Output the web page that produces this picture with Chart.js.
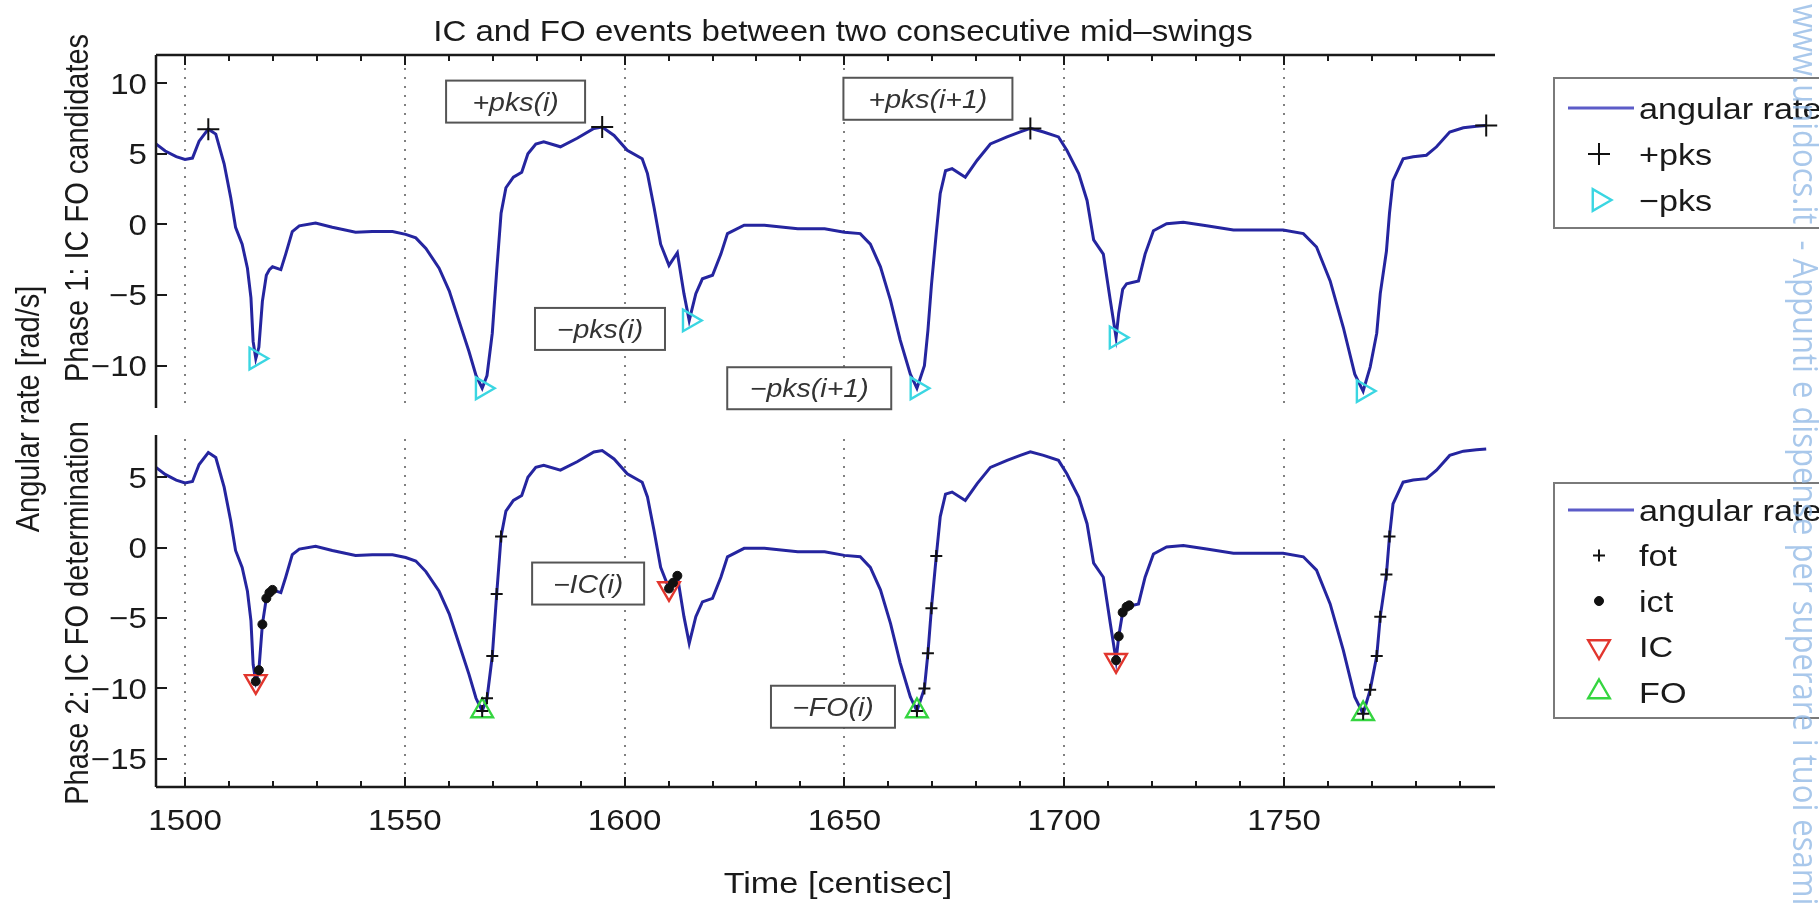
<!DOCTYPE html>
<html>
<head>
<meta charset="utf-8">
<script src="https://cdn.jsdelivr.net/npm/chart.js@4.4.0/dist/chart.umd.min.js"></script>
<style>
  html, body { margin: 0; padding: 0; background: #fff; }
  #wrap { position: relative; width: 1819px; height: 907px; overflow: hidden; background: #fff; }
  canvas { position: absolute; left: 0; top: 0; }
</style>
</head>
<body>
<div id="wrap">
  <canvas id="phase1" width="1819" height="907"></canvas>
  <canvas id="phase2" width="1819" height="907"></canvas>
</div>
<script>
// angular rate signal (time in centisec, rate in rad/s)
var timeCs = [1493.4, 1495.5, 1498, 1500, 1501.7, 1503.2, 1505.3, 1507, 1508.9, 1510.4, 1511.5, 1513, 1514.2, 1515, 1515.5,
  1516.1, 1516.8, 1517.6, 1518.5, 1519.2, 1519.9, 1521.8, 1522.9, 1524.4, 1526, 1529.7, 1533.5, 1538.8, 1542.6, 1547.2,
  1550.2, 1552.5, 1554.8, 1557.8, 1560.1, 1562.4, 1564.6, 1566.2, 1567.6, 1568.7, 1569.9, 1570.9, 1571.9, 1573, 1574.7,
  1576.6, 1578, 1579.8, 1581.6, 1585.4, 1589.2, 1593, 1594.9, 1597.6, 1600.6, 1604, 1605.2, 1606.7, 1608.2, 1610.1,
  1612, 1613.5, 1614.7, 1616.2, 1617.7, 1620, 1621.9, 1623.4, 1627.2, 1631.8, 1639.4, 1645.5, 1650, 1653.6, 1655.9,
  1658.2, 1660.5, 1662.7, 1665, 1666.5, 1668.2, 1669.0, 1669.8, 1670.9, 1671.8, 1673, 1674.5, 1677.5, 1680.2, 1683.2,
  1687, 1690, 1692.3, 1695.3, 1698.7, 1700.6, 1703.3, 1705.2, 1706.7, 1708.9, 1710.5, 1711.8, 1712.4, 1713.3, 1714.2,
  1716.9, 1718.4, 1720.3, 1723.3, 1727.1, 1732.4, 1738.5, 1743.8, 1749.8, 1754.4, 1757.4, 1760.5, 1763.5, 1766.1, 1768.0,
  1769.6, 1771.1, 1771.9, 1773.3, 1774.0, 1774.8, 1777.1, 1779.4, 1782.4, 1784.7, 1787.7, 1790.8, 1793.8, 1796.0];
var angularRate = [5.7, 5.2, 4.8, 4.6, 4.7, 5.9, 6.75, 6.4, 4.3, 1.9, -0.2, -1.4, -3.1, -5.2, -8.3,
  -9.5, -8.7, -5.45, -3.6, -3.2, -3.0, -3.2, -2.1, -0.5, -0.1, 0.1, -0.2, -0.55, -0.5, -0.5,
  -0.7, -0.95, -1.7, -3.1, -4.7, -6.9, -9.0, -10.7, -11.6, -10.7, -7.7, -3.3, 0.8, 2.6, 3.35,
  3.7, 5.0, 5.7, 5.85, 5.5, 6.1, 6.8, 6.9, 6.3, 5.25, 4.65, 3.6, 1.2, -1.4, -2.9,
  -2.0, -4.9, -6.8, -4.9, -3.85, -3.6, -2.1, -0.65, -0.05, -0.05, -0.3, -0.3, -0.55, -0.65, -1.4,
  -3.0, -5.4, -8.2, -10.6, -11.6, -10.0, -7.5, -4.3, -0.6, 2.2, 3.8, 3.95, 3.35, 4.55, 5.7,
  6.2, 6.55, 6.8, 6.55, 6.2, 5.25, 3.6, 1.7, -1.1, -2.1, -5.4, -8.0, -6.3, -4.6, -4.2,
  -4.0, -2.1, -0.45, 0.05, 0.15, -0.1, -0.4, -0.4, -0.4, -0.65, -1.6, -4.0, -7.3, -10.6, -11.8,
  -10.1, -7.7, -4.9, -1.9, 0.8, 3.1, 4.65, 4.8, 4.9, 5.5, 6.55, 6.85, 6.95, 7.0];

// phase 1: peak candidates
var posPeakTime = [1505.3, 1594.9, 1692.3, 1796.0];
var posPeakRate = [6.75, 6.9, 6.8, 7.0];
var negPeakTime = [1516.1, 1567.6, 1614.7, 1666.5, 1711.8, 1768.0];
var negPeakRate = [-9.5, -11.6, -6.8, -11.6, -8.0, -11.8];

// phase 2: candidates and detected events
var fotTime = [1567.6, 1568.7, 1569.9, 1570.9, 1571.9, 1666.5, 1668.2, 1669.0, 1669.8, 1670.9,
  1768.0, 1769.6, 1771.1, 1771.9, 1773.3, 1774.0];
var fotRate = [-11.6, -10.7, -7.7, -3.3, 0.8, -11.6, -10.0, -7.5, -4.3, -0.6,
  -11.8, -10.1, -7.7, -4.9, -1.9, 0.8];
var ictTime = [1516.1, 1516.8, 1517.6, 1518.5, 1519.2, 1519.9, 1610.1, 1611.0, 1612.0,
  1711.8, 1712.4, 1713.3, 1714.2, 1714.8];
var ictRate = [-9.5, -8.7, -5.45, -3.6, -3.2, -3.0, -2.9, -2.5, -2.0,
  -8.0, -6.3, -4.6, -4.2, -4.1];
var icTime = [1516.1, 1610.1, 1711.8];
var icRate = [-9.5, -2.9, -8.0];
var foTime = [1567.6, 1666.5, 1768.0];
var foRate = [-11.6, -11.6, -11.8];

// axis ticks
var xTickLabels = [1500, 1550, 1600, 1650, 1700, 1750];
var topYTicks = [-10, -5, 0, 5, 10];
var bottomYTicks = [-15, -10, -5, 0, 5];

// text call-outs (anchored in data units)
var topNoteText = ['+pks(i)', '+pks(i+1)', '\u2212pks(i)', '\u2212pks(i+1)'];
var topNoteTime = [1575.2, 1669.0, 1594.4, 1642.0];
var topNoteRate = [8.7, 8.9, -7.4, -11.6];
var bottomNoteText = ['\u2212IC(i)', '\u2212FO(i)'];
var bottomNoteTime = [1591.7, 1647.4];
var bottomNoteRate = [-2.55, -11.3];

var W = 1819, H = 907;
var X_MIN = 1493.4, X_MAX = 1798;
var FONT = '"Liberation Sans", Arial, Helvetica, sans-serif';
var SX = 1.14; // the figure's text is a little wider than tall
var BLUE = '#25259f';

function toPoints(xs, ys) {
  return xs.map(function (x, i) { return { x: x, y: ys[i] }; });
}

function drawText(ctx, str, x, y, size, o) {
  o = o || {};
  ctx.save();
  ctx.translate(x, y);
  if (o.angle) { ctx.rotate(o.angle); ctx.scale(1, SX); } else { ctx.scale(SX, 1); }
  ctx.font = (o.italic ? 'italic ' : '') + size + 'px ' + (o.family || FONT);
  ctx.textAlign = o.align || 'center';
  ctx.textBaseline = o.baseline || 'alphabetic';
  ctx.fillStyle = o.color || '#1a1a1a';
  ctx.fillText(str, 0, 0);
  ctx.restore();
}

function drawMarker(ctx, style, x, y, r, rotation, stroke, fill, lw) {
  ctx.save();
  ctx.translate(x, y);
  ctx.rotate((rotation || 0) * Math.PI / 180);
  ctx.lineWidth = lw;
  ctx.strokeStyle = stroke;
  ctx.fillStyle = fill;
  ctx.beginPath();
  if (style === 'cross') {
    ctx.moveTo(-r, 0); ctx.lineTo(r, 0);
    ctx.moveTo(0, -r); ctx.lineTo(0, r);
    ctx.stroke();
  } else if (style === 'circle') {
    ctx.arc(0, 0, r, 0, Math.PI * 2);
    ctx.fill(); ctx.stroke();
  } else {
    for (var k = 0; k < 3; k++) {
      var a = k * 2 * Math.PI / 3;
      if (k === 0) ctx.moveTo(Math.sin(a) * r, -Math.cos(a) * r);
      else ctx.lineTo(Math.sin(a) * r, -Math.cos(a) * r);
    }
    ctx.closePath();
    ctx.fill(); ctx.stroke();
  }
  ctx.restore();
}

function drawLegend(ctx, chart, box) {
  ctx.save();
  ctx.fillStyle = '#fff';
  ctx.strokeStyle = '#7a7a7a';
  ctx.lineWidth = 2;
  ctx.fillRect(box.left, box.top, W - box.left + 20, box.bottom - box.top);
  ctx.strokeRect(box.left, box.top, W - box.left + 20, box.bottom - box.top);
  chart.data.datasets.forEach(function (ds, i) {
    var y = box.firstRow + i * box.rowGap;
    if (ds.showLine) {
      ctx.strokeStyle = '#5c5cc8';
      ctx.lineWidth = 3;
      ctx.beginPath();
      ctx.moveTo(box.left + 14, y);
      ctx.lineTo(box.left + 80, y);
      ctx.stroke();
    } else {
      drawMarker(ctx, ds.pointStyle, box.left + 45, y, ds.pointRadius, ds.pointRotation,
        ds.pointBorderColor, ds.pointBackgroundColor, ds.pointBorderWidth);
    }
    drawText(ctx, ds.label, box.left + 85, y + 10.5, 30, { align: 'left' });
  });
  ctx.restore();
}

function drawNotes(ctx, chart, texts, times, rates, widths) {
  var x = chart.scales.x, y = chart.scales.y;
  ctx.save();
  texts.forEach(function (t, i) {
    var w = widths[i];
    var cx = x.getPixelForValue(times[i]), cy = y.getPixelForValue(rates[i]);
    ctx.fillStyle = '#fff';
    ctx.fillRect(cx - w / 2, cy - 21, w, 42);
    ctx.strokeStyle = '#555';
    ctx.lineWidth = 2;
    ctx.strokeRect(cx - w / 2, cy - 21, w, 42);
    drawText(ctx, t, cx, cy + 9, 25, { italic: true, color: '#333' });
  });
  ctx.restore();
}

var panelDecor = {
  id: 'panelDecor',
  beforeDatasetsDraw: function (chart, args, o) {
    var ctx = chart.ctx, a = chart.chartArea, x = chart.scales.x;
    ctx.save();
    ctx.strokeStyle = '#808080';
    ctx.lineWidth = 2;
    ctx.setLineDash([2, 7]);
    xTickLabels.forEach(function (t) {
      var px = Math.round(x.getPixelForValue(t));
      ctx.beginPath();
      ctx.moveTo(px, a.top + 4);
      ctx.lineTo(px, a.bottom);
      ctx.stroke();
    });
    ctx.restore();
  },
  afterDatasetsDraw: function (chart, args, o) {
    var ctx = chart.ctx, a = chart.chartArea, x = chart.scales.x, y = chart.scales.y;
    var edgeY = o.edge === 'top' ? a.top : a.bottom;
    var dir = o.edge === 'top' ? 1 : -1;
    ctx.save();
    ctx.strokeStyle = '#1a1a1a';
    ctx.lineWidth = 2.5;
    ctx.beginPath();
    ctx.moveTo(a.left, a.top); ctx.lineTo(a.left, a.bottom);
    ctx.moveTo(a.left, edgeY); ctx.lineTo(a.right, edgeY);
    ctx.stroke();
    ctx.lineWidth = 2;
    ctx.beginPath();
    for (var t = 1500; t < X_MAX; t += 10) {
      var px = Math.round(x.getPixelForValue(t));
      var len = t % 50 === 0 ? 10 : 6;
      ctx.moveTo(px, edgeY); ctx.lineTo(px, edgeY + dir * len);
    }
    o.yTicks.forEach(function (v) {
      var py = Math.round(y.getPixelForValue(v));
      ctx.moveTo(a.left, py); ctx.lineTo(a.left + 11, py);
    });
    ctx.stroke();
    o.yTicks.forEach(function (v) {
      drawText(ctx, String(v).replace('-', '\u2212'), a.left - 9, y.getPixelForValue(v) + 10.4, 29, { align: 'right' });
    });
    if (o.edge === 'bottom') {
      xTickLabels.forEach(function (t) {
        drawText(ctx, String(t), x.getPixelForValue(t), 830, 29);
      });
    }
    ctx.restore();
  },
  afterDraw: function (chart, args, o) {
    var ctx = chart.ctx;
    drawNotes(ctx, chart, o.notes.text, o.notes.time, o.notes.rate, o.notes.width);
    drawLegend(ctx, chart, o.legend);
    if (o.edge === 'bottom') {
      drawText(ctx, 'IC and FO events between two consecutive mid\u2013swings', 843, 41, 29);
      drawText(ctx, 'Time [centisec]', 838, 893, 30);
      drawText(ctx, 'Angular rate [rad/s]', 30, 409, 29, { angle: -Math.PI / 2, baseline: 'middle' });
      drawText(ctx, 'Phase 1: IC FO candidates', 79, 208, 29, { angle: -Math.PI / 2, baseline: 'middle' });
      drawText(ctx, 'Phase 2: IC FO determination', 79, 613, 29, { angle: -Math.PI / 2, baseline: 'middle' });
      drawText(ctx, 'www.unidocs.it  - Appunti e dispense per superare i tuoi esami', 1803, 4, 31,
        { angle: Math.PI / 2, baseline: 'middle', align: 'left', color: 'rgba(140,182,228,0.75)', family: '"Open Sans", sans-serif' });
    }
  }
};

function panelOptions(area, yMin, yMax, decor) {
  return {
    responsive: false,
    animation: false,
    devicePixelRatio: 1,
    events: [],
    layout: { padding: { left: area.left, right: W - area.right, top: area.top, bottom: H - area.bottom } },
    scales: {
      x: { type: 'linear', min: X_MIN, max: X_MAX, display: false },
      y: { type: 'linear', min: yMin, max: yMax, display: false }
    },
    plugins: {
      legend: { display: false },
      tooltip: { enabled: false },
      panelDecor: decor
    }
  };
}

function rateLine() {
  return {
    label: 'angular rate', data: toPoints(timeCs, angularRate), showLine: true,
    borderColor: BLUE, borderWidth: 3, pointRadius: 0, order: 5
  };
}

function markers(label, xs, ys, style, r, rot, stroke, fill, lw, order) {
  return {
    label: label, data: toPoints(xs, ys), showLine: false, clip: false,
    pointStyle: style, pointRadius: r, pointRotation: rot,
    pointBorderColor: stroke, pointBackgroundColor: fill, pointBorderWidth: lw,
    borderColor: stroke, backgroundColor: fill, order: order
  };
}

new Chart(document.getElementById('phase1'), {
  type: 'scatter',
  data: {
    datasets: [
      rateLine(),
      markers('+pks', posPeakTime, posPeakRate, 'cross', 11, 0, '#111', '#111', 2, 1),
      markers('\u2212pks', negPeakTime, negPeakRate, 'triangle', 12.5, 90, '#3ad6e2', 'rgba(0,0,0,0)', 2.4, 1)
    ]
  },
  options: panelOptions({ left: 156, right: 1495, top: 55, bottom: 408 }, -13, 12, {
    edge: 'top', yTicks: topYTicks,
    notes: { text: topNoteText, time: topNoteTime, rate: topNoteRate, width: [139, 169, 130, 164] },
    legend: { left: 1554, top: 78, bottom: 228, firstRow: 108, rowGap: 46 }
  }),
  plugins: [panelDecor]
});

new Chart(document.getElementById('phase2'), {
  type: 'scatter',
  data: {
    datasets: [
      rateLine(),
      markers('fot', fotTime, fotRate, 'cross', 6, 0, '#111', '#111', 2, 1),
      markers('ict', ictTime, ictRate, 'circle', 4.5, 0, '#111', '#111', 1, 1),
      markers('IC', icTime, icRate, 'triangle', 12.5, 180, '#e2362e', 'rgba(0,0,0,0)', 2.4, 3),
      markers('FO', foTime, foRate, 'triangle', 12.5, 0, '#35d540', 'rgba(0,0,0,0)', 2.4, 3)
    ]
  },
  options: panelOptions({ left: 156, right: 1495, top: 435, bottom: 787 }, -17, 8, {
    edge: 'bottom', yTicks: bottomYTicks,
    notes: { text: bottomNoteText, time: bottomNoteTime, rate: bottomNoteRate, width: [112, 124] },
    legend: { left: 1554, top: 483, bottom: 718, firstRow: 510, rowGap: 45.5 }
  }),
  plugins: [panelDecor]
});
</script>
</body>
</html>
